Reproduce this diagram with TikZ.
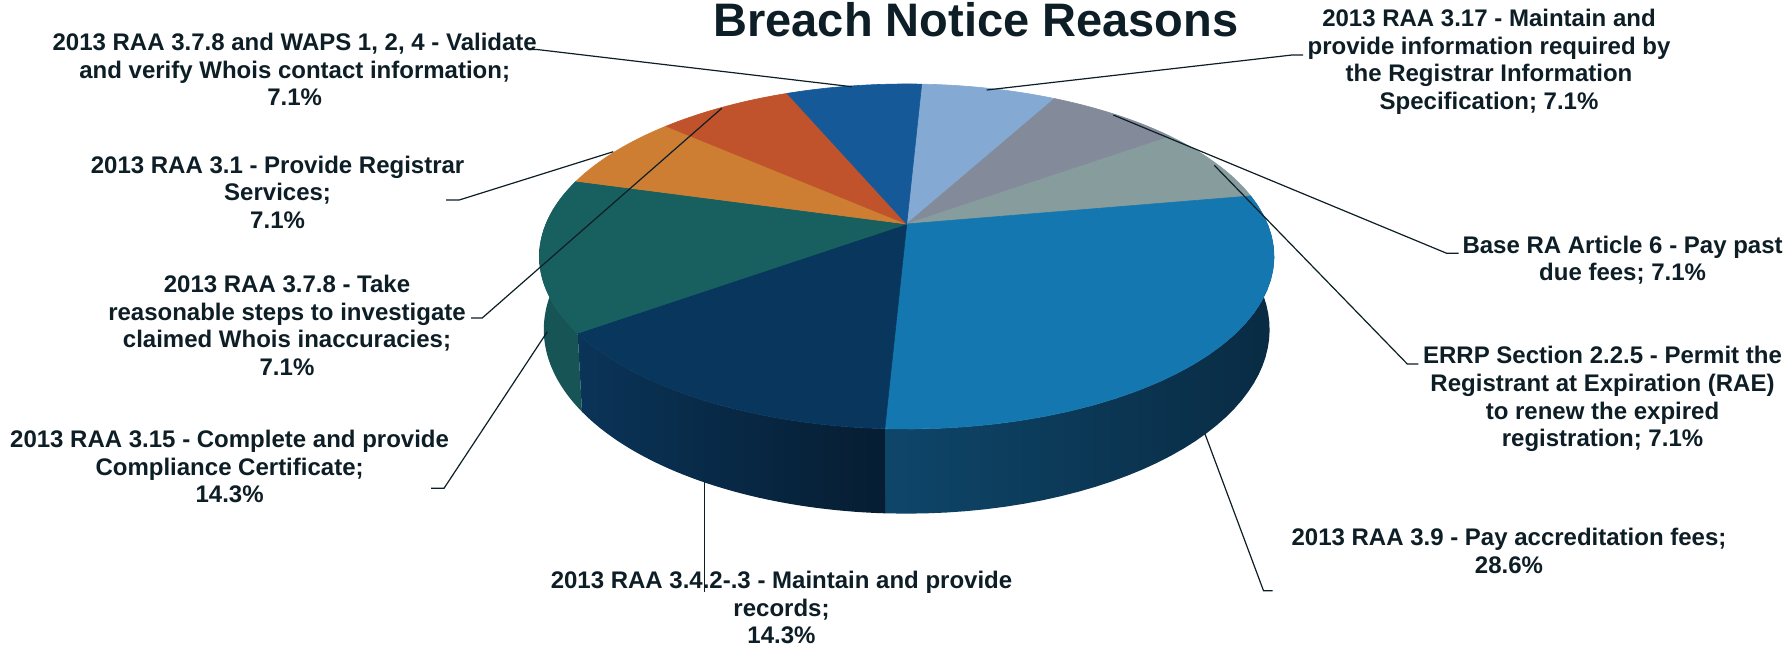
\documentclass[tikz,border=0pt]{standalone}
\usepackage{fontspec}
\setmainfont{Liberation Sans}
\usepackage{tikz}
\usetikzlibrary{positioning}
\definecolor{inkdark}{RGB}{13,30,38}
\definecolor{slicesky}{RGB}{132,169,211}
\definecolor{slicegray}{RGB}{131,139,154}
\definecolor{slicesage}{RGB}{134,156,157}
\definecolor{sliceblue}{RGB}{21,119,176}
\definecolor{slicenavy}{RGB}{9,54,93}
\definecolor{sliceteal}{RGB}{24,95,96}
\definecolor{sliceorange}{RGB}{205,126,50}
\definecolor{slicerust}{RGB}{192,83,43}
\definecolor{slicecobalt}{RGB}{21,89,153}
\definecolor{sidebluel}{RGB}{14,70,106}
\definecolor{sidebluer}{RGB}{9,43,67}
\definecolor{sidenavyl}{RGB}{10,52,88}
\definecolor{sidenavyr}{RGB}{6,29,50}
\definecolor{sideteal}{RGB}{22,84,86}

\begin{document}
\begin{tikzpicture}[
  x=1pt, y=-1pt,
  declare function={
    px(\t)=906.7+360.8*cos(\t)/(1+0.1884*sin(\t));
    py(\t)=224-166.4*sin(\t)/(1+0.1884*sin(\t));
    qx(\t)=906.7+360.8*cos(\t)/(1.0118+0.1884*sin(\t));
    qy(\t)=224+(72.1-166.4*sin(\t))/(1.0118+0.1884*sin(\t));
  },
  lbl/.style={text=inkdark, font=\fontsize{24}{27.7}\selectfont\bfseries, align=center, inner sep=0pt},
  leader/.style={draw=inkdark, line width=1.2pt}
]
\fill[white] (0,0) rectangle (1789,648);
\useasboundingbox (0,0) rectangle (1789,648);

\coordinate (hub) at (906.7,224);

% Pie walls (front half only)
\foreach \a/\b/\cl/\cr in {10.03/-92.83/sidebluel/sidebluer, -92.83/-144.26/sidenavyl/sidenavyr, -144.26/-195.69/sideteal/sideteal}
  \shade[left color=\cl, right color=\cr]
    plot[domain=\a:\b, samples=40, variable=\t] ({px(\t)},{py(\t)})
    -- plot[domain=\b:\a, samples=40, variable=\t] ({qx(\t)},{qy(\t)}) -- cycle;

% Pie top, clockwise from 12 o'clock
\foreach \a/\b/\col in {87.17/61.46/slicesky, 61.46/35.74/slicegray, 35.74/10.03/slicesage,
    10.03/-92.83/sliceblue, -92.83/-144.26/slicenavy, -144.26/-195.69/sliceteal,
    -195.69/-221.40/sliceorange, -221.40/-247.11/slicerust, -247.11/-272.83/slicecobalt}
  \filldraw[fill=\col, draw=\col, line width=0.6pt, line join=round]
    (hub) -- plot[domain=\a:\b, samples=30, variable=\t] ({px(\t)},{py(\t)}) -- cycle;

% Title
\node[text=inkdark, font=\fontsize{47}{50}\selectfont\bfseries, anchor=base] (title) at (976,36) {Breach Notice Reasons};

% Labels
\node[lbl] (waps) at (294.7,69.4) {2013 RAA 3.7.8 and WAPS 1, 2, 4 - Validate\\and verify Whois contact information;\\7.1\%};
\node[lbl] (regsvc) at (277.6,192.3) {2013 RAA 3.1 - Provide Registrar\\Services;\\7.1\%};
\node[lbl] (inacc) at (287,325.5) {2013 RAA 3.7.8 - Take\\reasonable steps to investigate\\claimed Whois inaccuracies;\\7.1\%};
\node[lbl] (compcert) at (229.6,466.7) {2013 RAA 3.15 - Complete and provide\\Compliance Certificate;\\14.3\%};
\node[lbl] (records) at (781.5,607.5) {2013 RAA 3.4.2-.3 - Maintain and provide\\records;\\14.3\%};
\node[lbl] (accfees) at (1509,551) {2013 RAA 3.9 - Pay accreditation fees;\\28.6\%};
\node[lbl] (errp) at (1602.5,399.2) {ERRP Section 2.2.5 - Permit the\\Registrant at Expiration (RAE)\\to renew the expired\\registration; 7.1\%};
\node[lbl] (pastdue) at (1622.6,260.3) {Base RA Article 6 - Pay past\\due fees; 7.1\%};
\node[lbl] (rispec) at (1489,61.7) {2013 RAA 3.17 - Maintain and\\provide information required by\\the Registrar Information\\Specification; 7.1\%};

% Leader ends on the pie and elbows at the labels
\coordinate (p-waps) at (851.7,86.7);     \coordinate (e-waps) at (537,49.5);
\coordinate (p-regsvc) at (613.3,151.7);  \coordinate (e-regsvc) at (459.2,200);
\coordinate (p-inacc) at (721.7,108.3);   \coordinate (e-inacc) at (482.2,318);
\coordinate (p-compcert) at (547.3,331.7);\coordinate (e-compcert) at (444,488.3);
\coordinate (p-records) at (704.3,481.7); \coordinate (e-records) at (704.3,592);
\coordinate (p-accfees) at (1205,434);    \coordinate (e-accfees) at (1263.5,590.7);
\coordinate (p-errp) at (1214.3,165.3);   \coordinate (e-errp) at (1407.3,364);
\coordinate (p-pastdue) at (1113.3,115);  \coordinate (e-pastdue) at (1446.7,253.3);
\coordinate (p-rispec) at (986.7,90);     \coordinate (e-rispec) at (1292,55);

\draw[leader] (p-waps) -- (e-waps) -- ++(-9,0);
\draw[leader] (p-regsvc) -- (e-regsvc) -- ++(-13,0);
\draw[leader] (p-inacc) -- (e-inacc) -- ++(-11,0);
\draw[leader] (p-compcert) -- (e-compcert) -- ++(-13,0);
\draw[leader] (p-records) -- (e-records);
\draw[leader] (p-accfees) -- (e-accfees) -- ++(9,0);
\draw[leader] (p-errp) -- (e-errp) -- ++(11,0);
\draw[leader] (p-pastdue) -- (e-pastdue) -- ++(12,0);
\draw[leader] (p-rispec) -- (e-rispec) -- ++(11,0);

\end{tikzpicture}
\end{document}
